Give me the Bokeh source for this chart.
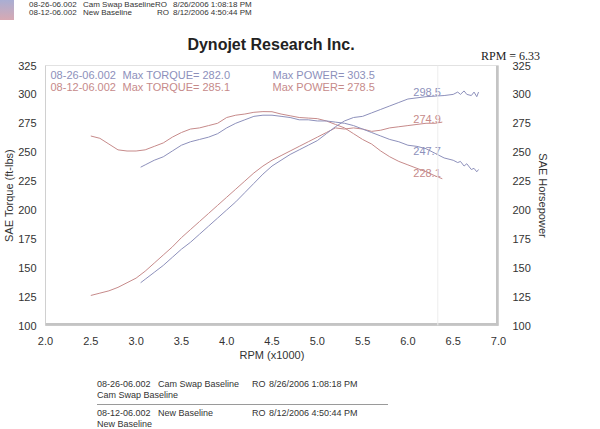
from bokeh.plotting import figure
from bokeh.layouts import column
from bokeh.models import Range1d, LinearAxis, FixedTicker, Span, NumeralTickFormatter, Div
from bokeh.embed import file_html
from bokeh.resources import INLINE
from bokeh.core.properties import value

FONT = "Liberation Sans"
BLUE = "#8d90bb"
RED = "#c68a8a"
INK = "#333333"

# ---- data ----
rpm_red_tq = [2.5, 2.6, 2.7, 2.8, 2.9, 3.0, 3.1, 3.2, 3.3, 3.4, 3.5, 3.6, 3.7, 3.8, 3.9, 4.0, 4.1, 4.2, 4.3, 4.4,
              4.5, 4.6, 4.7, 4.8, 4.9, 5.0, 5.1, 5.2, 5.3, 5.4, 5.5, 5.6, 5.7, 5.8, 5.9, 6.0, 6.1, 6.2, 6.3, 6.38]
red_torque = [264, 262, 257, 252, 251, 251, 252, 255, 258, 263, 267, 270, 271, 273, 275, 280, 282, 283, 284.5, 285.1,
              285, 283, 281.5, 280, 279.5, 279, 277, 274, 271, 266, 261, 257, 251, 246, 242, 239, 236, 233, 229.5, 227]
red_power = [126, 128, 130, 133, 137, 141, 147, 154, 161, 168, 176, 183, 190, 197, 204, 211, 218, 225, 232, 238,
             243, 247, 251, 255, 259, 263, 267, 271, 270, 271, 270, 268, 269, 271, 272, 273, 274, 275, 275, 276]

rpm_blue = [3.05, 3.1, 3.2, 3.3, 3.4, 3.5, 3.6, 3.7, 3.8, 3.9, 4.0, 4.1, 4.2, 4.3, 4.4, 4.5, 4.6, 4.7, 4.8, 4.9,
            5.0, 5.1, 5.2, 5.3, 5.4, 5.5, 5.6, 5.7, 5.8, 5.9, 6.0, 6.1, 6.2, 6.3, 6.4, 6.5, 6.55, 6.58, 6.62, 6.65,
            6.7, 6.73, 6.76, 6.78]
blue_torque = [237, 239, 243, 246, 251, 256, 259, 261, 263, 266, 271, 275, 278, 281, 282, 282, 281, 280, 278, 278,
               277, 277, 276, 275, 273, 270, 267, 264, 261, 259, 256, 255, 253, 249, 245, 243, 241, 242, 238, 240,
               235, 236, 233, 235]
blue_power = [137, 140, 146, 152, 159, 166, 172, 179, 186, 193, 200, 207, 215, 223, 231, 238, 243, 248, 252, 256,
              260, 266, 272, 277, 280, 281, 284, 287, 290, 293, 296, 297, 298, 298.5, 299, 300, 302, 300, 303, 300,
              299, 302, 298, 302]

cursor_rpm = 6.33
cursor_vals = [298.5, 274.9, 247.7, 228.1]
cursor_cols = [BLUE, RED, BLUE, RED]

y_ticks = [100, 125, 150, 175, 200, 225, 250, 275, 300, 325]
x_ticks = [2.0, 2.5, 3.0, 3.5, 4.0, 4.5, 5.0, 5.5, 6.0, 6.5, 7.0]

W, H = 600, 429
HEAD_H, FOOT_Y = 61, 372
FL, FR, FT, FB = 44, 498, 65, 325   # frame edges in page pixels


def txt(x, y_center, t, size=9, color=INK, family="'Liberation Sans'", extra=""):
    top = y_center - size / 2
    return (f'<div style="position:absolute;left:{x}px;top:{top}px;font-family:{family};'
            f'font-size:{size}px;line-height:1;color:{color};white-space:nowrap;{extra}">{t}</div>')


def panel(inner, h):
    html = f'<div style="position:relative;width:{W}px;height:{h}px;overflow:hidden;">{inner}</div>'
    return Div(text=html, width=W, height=h, margin=0)


# ---------- header ----------
hdr = ['<div style="position:absolute;left:0;top:0;width:14px;height:20px;'
       'background:linear-gradient(#a9aed3,#d7a9b3);"></div>']
for (x, t) in [(29, "08-26-06.002"), (83, "Cam Swap BaselineRO"), (173, "8/26/2006 1:08:18 PM")]:
    hdr.append(txt(x, 4.5, t, 8))
for (x, t) in [(29, "08-12-06.002"), (83, "New Baseline"), (157, "RO"), (173, "8/12/2006 4:50:44 PM")]:
    hdr.append(txt(x, 13, t, 8))
hdr.append(txt((FL + FR) / 2, 44.5, "Dynojet Research Inc.", 16, "#222222",
               extra="font-weight:bold;transform:translateX(-50%);"))
hdr.append(txt(481, 55.5, "RPM = 6.33", 12, "#222222", family="'Liberation Serif'"))
head = panel("".join(hdr), HEAD_H)

# ---------- main chart ----------
p = figure(width=W, height=FOOT_Y - HEAD_H, output_backend="svg", toolbar_location=None,
           x_range=Range1d(2.0, 7.0), y_range=Range1d(100, 325),
           min_border_left=FL, min_border_right=W - FR, min_border_top=FT - HEAD_H,
           min_border_bottom=FOOT_Y - FB,
           x_axis_label="RPM (x1000)", y_axis_label="SAE Torque (ft-lbs)")
p.grid.visible = False
p.outline_line_color = "#e2e2e2"
p.background_fill_color = "white"
p.border_fill_color = "white"

p.extra_y_ranges = {"hp": Range1d(100, 325)}
p.add_layout(LinearAxis(y_range_name="hp", axis_label="SAE Horsepower"), "right")

for ax in p.axis:
    ax.ticker = FixedTicker(ticks=y_ticks)
    ax.major_label_text_font = FONT
    ax.major_label_text_font_size = "11px"
    ax.major_label_text_color = INK
    ax.axis_label_text_font = FONT
    ax.axis_label_text_font_size = "11px"
    ax.axis_label_text_font_style = "normal"
    ax.axis_label_text_color = INK
    ax.major_tick_line_color = None
    ax.minor_tick_line_color = None
    ax.major_tick_out = 0
    ax.major_tick_in = 0
    ax.minor_tick_out = 0
    ax.minor_tick_in = 0
    ax.axis_line_color = "#d0d0d0"
p.yaxis[0].major_label_standoff = 9
p.yaxis[0].axis_label_standoff = 0
p.yaxis[1].major_label_standoff = 14
p.yaxis[1].axis_label_standoff = 3
p.yaxis[1].axis_line_color = None
p.xaxis.ticker = FixedTicker(ticks=x_ticks)
p.xaxis.formatter = NumeralTickFormatter(format="0.0")
p.xaxis.axis_label_standoff = 1
p.xaxis.major_label_standoff = 11

# frame shadow bars and cursor line
p.add_layout(Span(location=7.0, dimension="height", line_color="#c4c4c4", line_width=5))
p.add_layout(Span(location=100, dimension="width", line_color="#c4c4c4", line_width=5))
p.add_layout(Span(location=cursor_rpm, dimension="height", line_color="#ededed", line_width=1))

p.line(rpm_red_tq, red_torque, line_color=RED, line_width=1)
p.line(rpm_red_tq, red_power, line_color=RED, line_width=1)
p.line(rpm_blue, blue_torque, line_color=BLUE, line_width=1)
p.line(rpm_blue, blue_power, line_color=BLUE, line_width=1)

p.text(x=[cursor_rpm] * 4, y=cursor_vals, text=[f"{v:.1f}" for v in cursor_vals], text_color=cursor_cols,
       text_font=value(FONT), text_font_size="11px", text_align="right", text_baseline="bottom", x_offset=3)

# in-chart legend text (pixel offsets from the frame's top-left corner)
for (dx, dy, t, c) in [(5, 9, "08-26-06.002", BLUE), (77, 9, "Max TORQUE= 282.0", BLUE),
                       (227, 9, "Max POWER= 303.5", BLUE),
                       (5, 21, "08-12-06.002", RED), (77, 21, "Max TORQUE= 285.1", RED),
                       (227, 21, "Max POWER= 278.5", RED)]:
    p.text(x=[2.0], y=[325], text=[t], text_color=c, text_font=value(FONT), text_font_size="11px",
           text_align="left", text_baseline="middle", x_offset=dx, y_offset=dy)

# ---------- footer ----------
ftr = []
for (x, t) in [(97, "08-26-06.002"), (158, "Cam Swap Baseline"), (252, "RO"), (269, "8/26/2006 1:08:18 PM")]:
    ftr.append(txt(x, 384.5 - FOOT_Y, t))
ftr.append(txt(97, 395 - FOOT_Y, "Cam Swap Baseline"))
ftr.append(f'<div style="position:absolute;left:97px;top:{404 - FOOT_Y}px;width:291px;height:0;'
           'border-top:1px solid #9a9a9a;"></div>')
for (x, t) in [(97, "08-12-06.002"), (158, "New Baseline"), (252, "RO"), (269, "8/12/2006 4:50:44 PM")]:
    ftr.append(txt(x, 413.5 - FOOT_Y, t))
ftr.append(txt(97, 424 - FOOT_Y, "New Baseline"))
foot = panel("".join(ftr), H - FOOT_Y)

layout = column(head, p, foot, spacing=0)
open("out.html", "w").write(file_html(layout, INLINE))
